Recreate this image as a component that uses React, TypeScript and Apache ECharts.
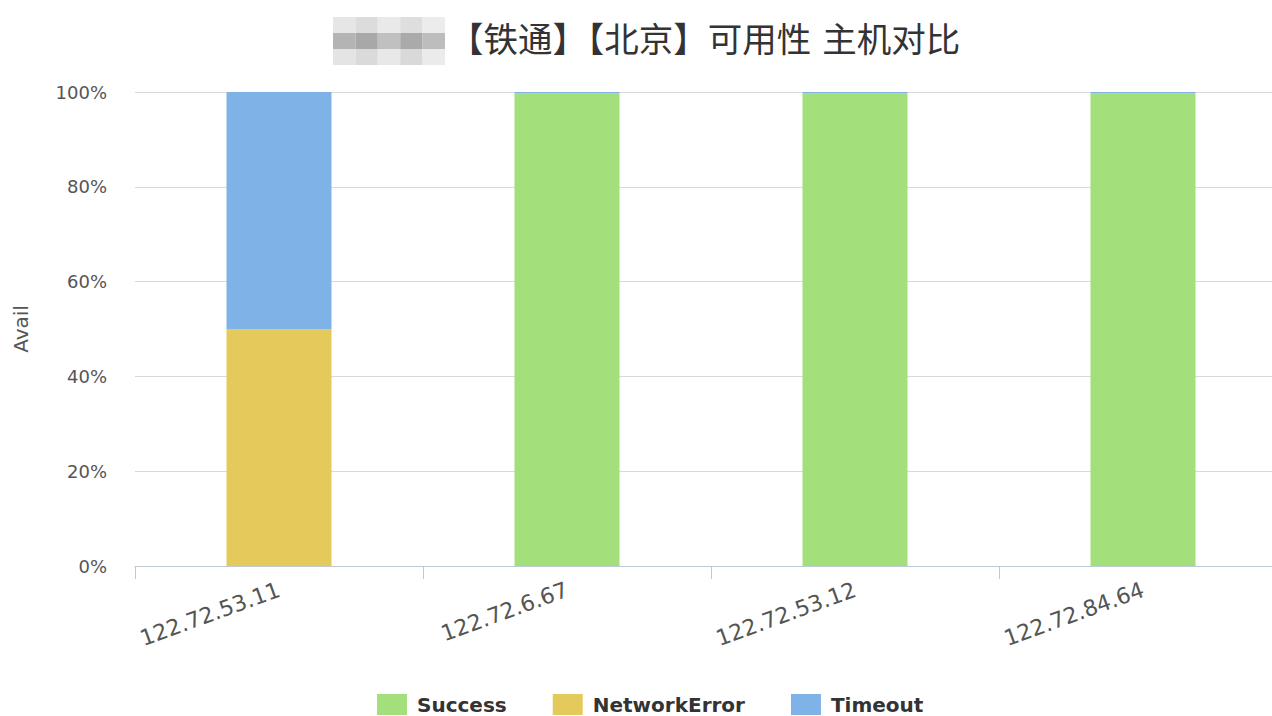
import React, { useEffect, useRef } from "react";
import * as echarts from "echarts";

const titleText = "【铁通】【北京】可用性 主机对比";
const categories = ["122.72.53.11", "122.72.6.67", "122.72.53.12", "122.72.84.64"];
const successValues = [0, 99.7, 99.7, 99.7];
const networkErrorValues = [50, 0, 0, 0];
const timeoutValues = [50, 0.3, 0.3, 0.3];
const yTicks = [0, 20, 40, 60, 80, 100];

const FONT = "'DejaVu Sans', 'Noto Sans CJK SC', sans-serif";

export default function App() {
  const ref = useRef<HTMLDivElement>(null);

  useEffect(() => {
    document.body.style.margin = "0";
    const chart = echarts.init(ref.current!, null, { renderer: "svg" });
    const blurCells = [
      ["#e6e6e6", "#dcdcdc", "#e9e9e9", "#dedede", "#ececec"],
      ["#b4b4b4", "#a8a8a8", "#c0c0c0", "#aaaaaa", "#bdbdbd"],
      ["#e4e4e4", "#dadada", "#e8e8e8", "#d9d9d9", "#ebebeb"],
    ];
    const blur: any[] = [];
    blurCells.forEach((row, r) =>
      row.forEach((c, i) => {
        blur.push({
          type: "rect",
          shape: { x: 333 + i * 22.4, y: 17 + r * 16, width: 22.4, height: 16 },
          style: { fill: c },
        });
      })
    );
    chart.setOption({
      animation: false,
      textStyle: { fontFamily: FONT },
      title: {
        text: titleText,
        left: 444,
        top: 18,
        textStyle: { fontSize: 34.5, fontWeight: "normal", color: "#333", fontFamily: FONT },
      },
      graphic: blur,
      legend: {
        top: 689,
        left: 372,
        itemWidth: 30,
        itemHeight: 21,
        itemGap: 46,
        icon: "rect",
        textStyle: {
          fontSize: 20,
          fontWeight: "bold",
          color: "#333",
          fontFamily: FONT,
          padding: [0, 0, 0, 5],
        },
        data: ["Success", "NetworkError", "Timeout"],
      },
      grid: { left: 135, top: 92, width: 1152, height: 474 },
      xAxis: {
        type: "category",
        data: categories,
        axisLine: { lineStyle: { color: "#c0c8d0", width: 1 } },
        axisTick: { show: true, length: 13, lineStyle: { color: "#c0c8d0" } },
        axisLabel: { rotate: 20, fontSize: 22, color: "#555", margin: 23, fontFamily: FONT },
      },
      yAxis: {
        type: "value",
        min: 0,
        max: 100,
        interval: 20,
        name: "Avail",
        nameLocation: "middle",
        nameGap: 104,
        nameTextStyle: { fontSize: 20, color: "#555", fontFamily: FONT },
        axisLabel: {
          formatter: (v: number) => (yTicks.includes(v) ? v + "%" : ""),
          fontSize: 18,
          color: "#555",
          margin: 28,
          fontFamily: FONT,
        },
        splitLine: { lineStyle: { color: "#d8d8d8" } },
        axisLine: { show: false },
        axisTick: { show: false },
      },
      series: [
        {
          name: "Success",
          type: "bar",
          stack: "s",
          data: successValues,
          barWidth: 105,
          itemStyle: { color: "#a3e07b" },
        },
        {
          name: "NetworkError",
          type: "bar",
          stack: "s",
          data: networkErrorValues,
          barWidth: 105,
          itemStyle: { color: "#e4ca5b" },
        },
        {
          name: "Timeout",
          type: "bar",
          stack: "s",
          data: timeoutValues,
          barWidth: 105,
          itemStyle: { color: "#7fb3e8" },
        },
      ],
    });
    return () => chart.dispose();
  }, []);

  return (
    <div style={{ width: 1272, height: 716, overflow: "hidden" }}>
      <div ref={ref} style={{ width: 1290, height: 716 }} />
    </div>
  );
}
